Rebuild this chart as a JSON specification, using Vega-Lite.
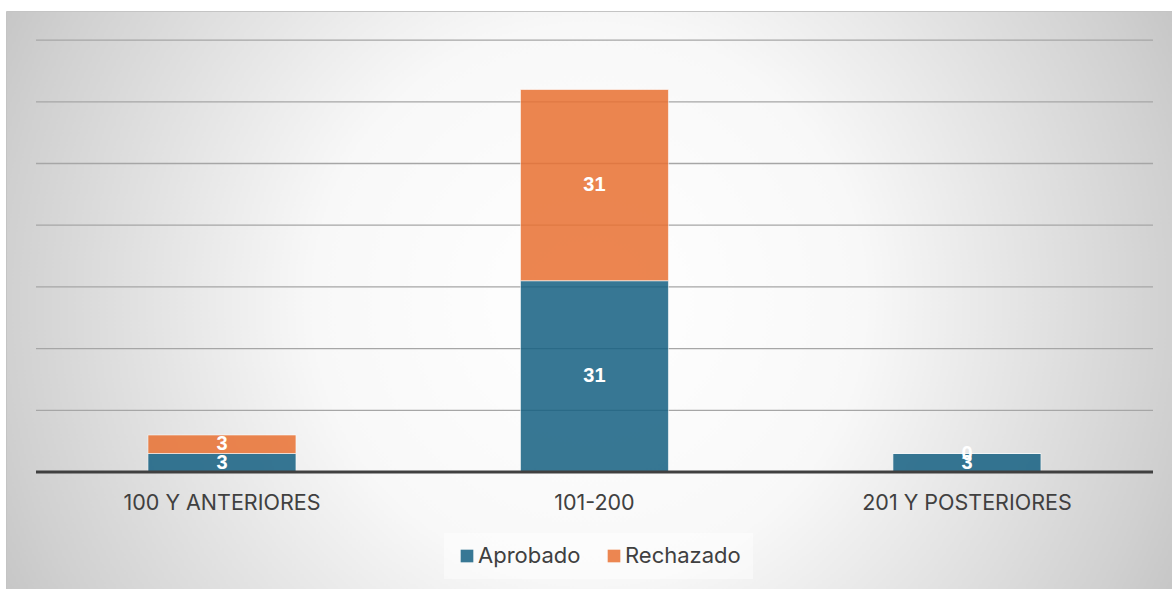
{
  "$schema": "https://vega.github.io/schema/vega-lite/v6.json",
  "width": 1166,
  "height": 578,
  "autosize": {"type": "none"},
  "padding": {"left": 6, "top": 11, "right": 0, "bottom": 0},
  "background": "#ffffff",
  "config": {
    "view": {
      "fill": {"gradient": "radial", "x1": 0.5, "y1": 0.5, "r1": 0, "x2": 0.5, "y2": 0.5, "r2": 0.56,
        "stops": [
          {"offset": 0, "color": "#ffffff"},
          {"offset": 0.42, "color": "#f8f8f8"},
          {"offset": 0.9, "color": "#d0d0d0"},
          {"offset": 1, "color": "#c6c6c6"}
        ]},
      "stroke": "#c4c4c4",
      "strokeWidth": 1
    },
    "font": "Inter"
  },
  "datasets": {
    "bars": [
      {"categoria": "100 Y ANTERIORES", "estado": "Aprobado", "valor": 3},
      {"categoria": "100 Y ANTERIORES", "estado": "Rechazado", "valor": 3},
      {"categoria": "101-200", "estado": "Aprobado", "valor": 31},
      {"categoria": "101-200", "estado": "Rechazado", "valor": 31},
      {"categoria": "201 Y POSTERIORES", "estado": "Aprobado", "valor": 3},
      {"categoria": "201 Y POSTERIORES", "estado": "Rechazado", "valor": 0}
    ],
    "grid": [
      {"g": 0}, {"g": 10}, {"g": 20}, {"g": 30}, {"g": 40}, {"g": 50}, {"g": 60}, {"g": 70}
    ]
  },
  "resolve": {"scale": {"x": "independent"}, "axis": {"x": "independent"}},
  "layer": [
    {
      "data": {"name": "grid"},
      "transform": [{"filter": "datum.g > 0"}],
      "mark": {"type": "rule", "stroke": "#a6a6a6", "strokeWidth": 1.3},
      "encoding": {
        "y": {"field": "g", "type": "quantitative", "scale": {"domain": [-18.96, 74.72], "nice": false, "zero": false}, "axis": null},
        "x": {"datum": 0, "type": "quantitative", "scale": {"domain": [-0.02686, 1.01701], "nice": false, "zero": false}, "axis": null},
        "x2": {"datum": 1}
      }
    },
    {
      "data": {"name": "bars"},
      "transform": [
        {"stack": "valor", "groupby": ["categoria"], "sort": [{"field": "estado", "order": "ascending"}], "as": ["y0", "y1"]},
        {"calculate": "(datum.y0 + datum.y1) / 2", "as": "ymid"}
      ],
      "layer": [
        {
          "mark": {"type": "bar", "opacity": 0.85, "stroke": "#ffffff", "strokeOpacity": 0.6, "strokeWidth": 1},
          "encoding": {
            "x": {"field": "categoria", "type": "nominal", "sort": ["100 Y ANTERIORES", "101-200", "201 Y POSTERIORES"],
              "scale": {"paddingInner": 0.6027, "paddingOuter": 0.3665, "align": 0.52},
              "axis": {"title": null, "orient": "bottom", "offset": -117, "domain": false, "ticks": false, "labelAngle": 0,
                "labelFontSize": 21.5, "labelColor": "#404040", "labelFont": "Inter", "labelFontWeight": "normal", "labelLimit": 0, "labelPadding": 20, "grid": false}},
            "y": {"field": "y0", "type": "quantitative", "scale": {"domain": [-18.96, 74.72], "nice": false, "zero": false}, "axis": null},
            "y2": {"field": "y1"},
            "color": {"field": "estado", "type": "nominal",
              "scale": {"domain": ["Aprobado", "Rechazado"], "range": ["#156082", "#E97132"]},
              "legend": {"title": null, "orient": "none", "direction": "horizontal", "legendX": 438, "legendY": 522,
                "padding": 12, "fillColor": "rgba(255,255,255,0.45)", "symbolType": "square", "symbolSize": 160,
                "symbolOpacity": 0.85, "symbolStrokeWidth": 0, "labelFontSize": 22, "labelColor": "#404040", "labelFont": "Inter", "labelFontWeight": "normal",
                "columnPadding": 22, "symbolOffset": 0, "labelOffset": 0}}
          }
        },
        {
          "mark": {"type": "text", "color": "#ffffff", "fontWeight": "bold", "fontSize": 20, "font": "Liberation Sans", "baseline": "middle"},
          "encoding": {
            "x": {"field": "categoria", "type": "nominal", "sort": ["100 Y ANTERIORES", "101-200", "201 Y POSTERIORES"]},
            "y": {"field": "ymid", "type": "quantitative"},
            "text": {"field": "valor", "type": "quantitative"}
          }
        }
      ]
    },
    {
      "data": {"name": "grid"},
      "transform": [{"filter": "datum.g == 0"}],
      "mark": {"type": "rule", "stroke": "#404040", "strokeWidth": 3},
      "encoding": {
        "y": {"field": "g", "type": "quantitative"},
        "x": {"datum": 0, "type": "quantitative", "scale": {"domain": [-0.02686, 1.01701], "nice": false, "zero": false}, "axis": null},
        "x2": {"datum": 1}
      }
    }
  ]
}
